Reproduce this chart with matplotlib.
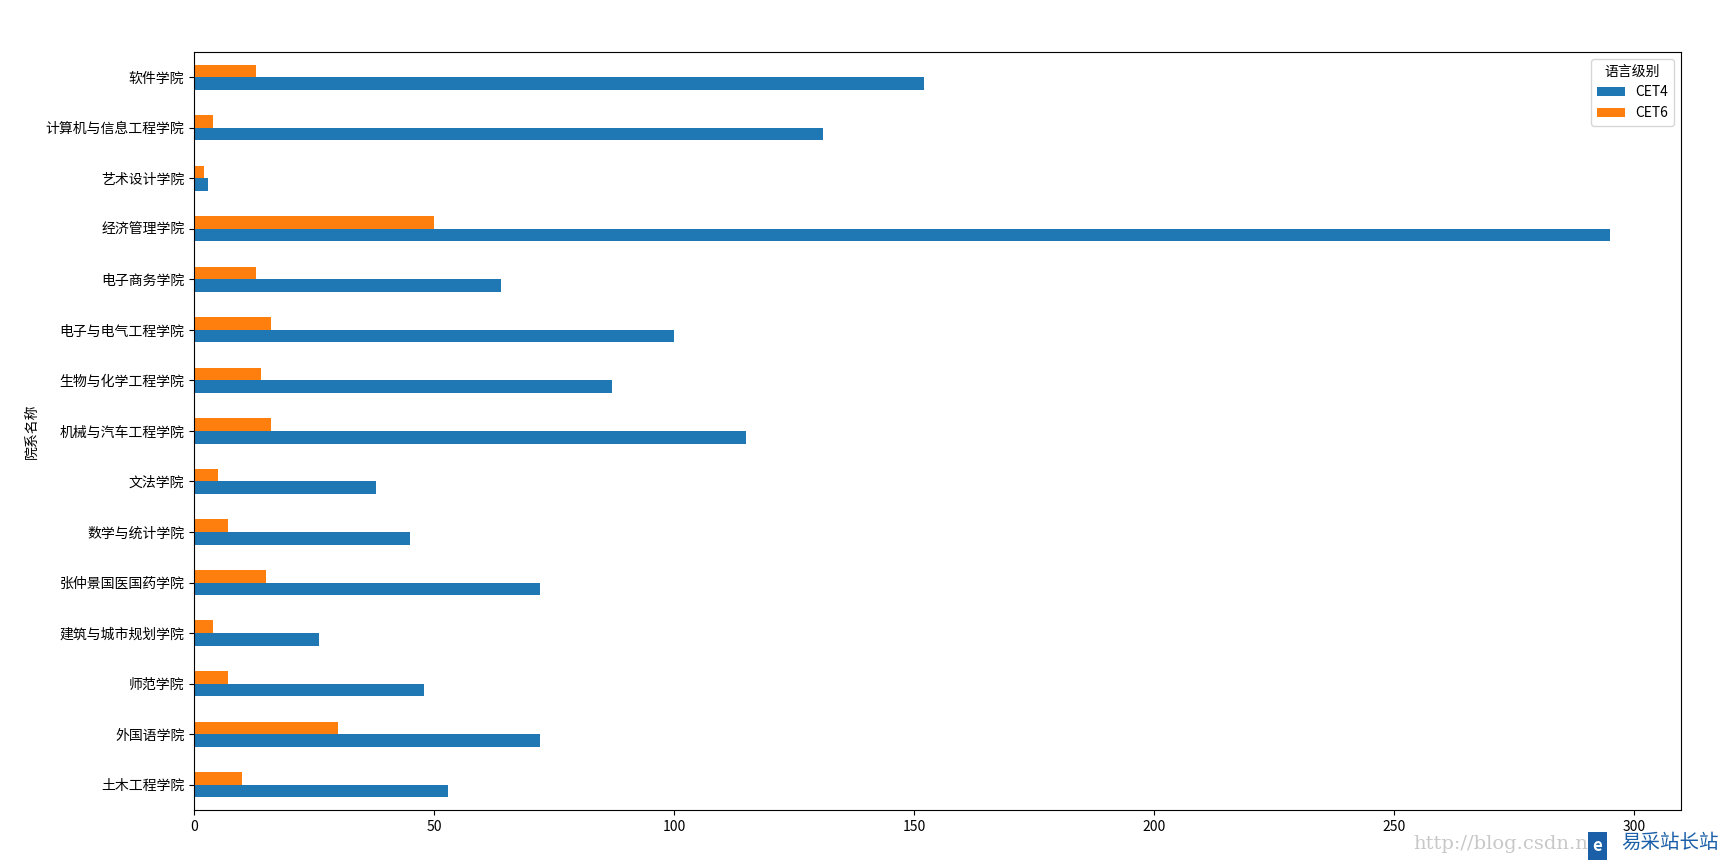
import matplotlib
matplotlib.use("Agg")
import matplotlib.pyplot as plt
import numpy as np

plt.rcParams['font.family'] = ['Noto Sans CJK SC', 'DejaVu Sans']
plt.rcParams['axes.unicode_minus'] = False

colleges = ['土木工程学院', '外国语学院', '师范学院', '建筑与城市规划学院', '张仲景国医国药学院',
            '数学与统计学院', '文法学院', '机械与汽车工程学院', '生物与化学工程学院',
            '电子与电气工程学院', '电子商务学院', '经济管理学院', '艺术设计学院',
            '计算机与信息工程学院', '软件学院']
cet4 = [53, 72, 48, 26, 72, 45, 38, 115, 87, 100, 64, 295, 3, 131, 152]
cet6 = [10, 30, 7, 4, 15, 7, 5, 16, 14, 16, 13, 50, 2, 4, 13]
series_names = ['CET4', 'CET6']
colors = ['#1f77b4', '#ff7f0e']

fig = plt.figure(figsize=(17.28, 8.65), dpi=100)
ax = fig.add_axes([0.1123, 0.0636, 0.8605, 0.8764])

y = np.arange(len(colleges))
w = 0.25
ax.barh(y - w / 2, cet4, height=w, color=colors[0], label=series_names[0])
ax.barh(y + w / 2, cet6, height=w, color=colors[1], label=series_names[1])

ax.set_yticks(y)
ax.set_yticklabels(colleges, fontsize=10)
ax.set_ylim(-0.5, len(colleges) - 0.5)
ax.set_xlim(0, max(cet4) * 1.05)
ax.set_xticks([0, 50, 100, 150, 200, 250, 300])
ax.tick_params(axis='x', labelsize=10)
ax.set_ylabel('院系名称', fontsize=10)

leg = ax.legend(title='语言级别', loc='upper right', fontsize=10, title_fontsize=10)

# watermark overlay
fig.text(0.818, 0.024, 'http://blog.csdn.n', color='#c8c8c8', fontsize=14,
         family=['DejaVu Serif'], ha='left', va='center', zorder=5)
fig.text(0.9245, 0.022, 'e', color='white', fontsize=12, fontweight='bold', ha='center', va='center',
         bbox=dict(facecolor='#1a5fa8', edgecolor='none', boxstyle='square,pad=0.3'), zorder=6)
fig.text(0.938, 0.026, '易采站长站', color='#1a5fa8', fontsize=14, ha='left', va='center',
         bbox=dict(facecolor='white', edgecolor='none', pad=0.5), zorder=6)

fig.savefig('out.png', dpi=100)
